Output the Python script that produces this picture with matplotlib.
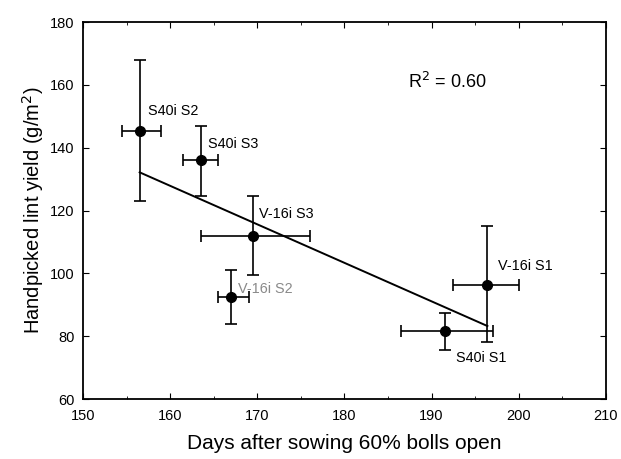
import numpy as np
import matplotlib
matplotlib.use("Agg")
import matplotlib.pyplot as plt
from matplotlib.ticker import MultipleLocator

plt.rcParams['font.family'] = ['Liberation Sans', 'DejaVu Sans']

# treatment means
labels = ["S40i S2", "S40i S3", "V-16i S3", "V-16i S2", "S40i S1", "V-16i S1"]
days = [156.5, 163.5, 169.5, 167.0, 191.5, 196.4]
yield_ = [145.5, 136.0, 112.0, 92.5, 81.5, 96.3]
# error bar extents (low, high)
days_lo = [154.5, 161.5, 163.5, 165.5, 186.5, 192.5]
days_hi = [159.0, 165.5, 176.0, 169.0, 197.0, 200.0]
yield_lo = [123.0, 124.5, 99.5, 84.0, 75.5, 78.0]
yield_hi = [168.0, 147.0, 124.5, 101.0, 87.5, 115.0]
# label anchor points
label_x = [157.5, 164.3, 170.2, 167.8, 192.8, 197.6]
label_y = [151.7, 141.3, 119.0, 95.0, 73.0, 102.3]
label_col = ["black", "black", "black", "#8a8a8a", "black", "black"]

days = np.array(days)
yield_ = np.array(yield_)
xerr = [days - np.array(days_lo), np.array(days_hi) - days]
yerr = [yield_ - np.array(yield_lo), np.array(yield_hi) - yield_]

fig = plt.figure(figsize=(6.21, 4.59), dpi=100)
ax = fig.add_axes([0.1337, 0.1307, 0.842, 0.821])

ax.errorbar(days, yield_, xerr=xerr, yerr=yerr, fmt='o', color='black',
            markersize=7, capsize=4, elinewidth=1.2, capthick=1.2)

# regression line
slope, icpt = np.polyfit(days, yield_, 1)
fx = np.array([days.min(), days.max()])
ax.plot(fx, slope * fx + icpt, color='black', linewidth=1.4)

for lab, lx, ly, c in zip(labels, label_x, label_y, label_col):
    ax.text(lx, ly, lab, fontsize=10.4, color=c, ha='left', va='center')

ax.text(187.3, 160.9, r'R$^2$ = 0.60', fontsize=13, ha='left', va='center')

ax.set_xlim(150, 210)
ax.set_ylim(60, 180)
ax.xaxis.set_major_locator(MultipleLocator(10))
ax.xaxis.set_minor_locator(MultipleLocator(5))
ax.yaxis.set_major_locator(MultipleLocator(20))
ax.tick_params(direction='in', top=True, right=True, which='both', labelsize=10.5)
ax.tick_params(which='major', length=4)
ax.tick_params(which='minor', length=2)
ax.tick_params(axis='x', pad=7)
ax.tick_params(axis='y', pad=6)
for s in ax.spines.values():
    s.set_linewidth(1.3)

ax.set_xlabel('Days after sowing 60% bolls open', fontsize=15, labelpad=8)
ax.set_ylabel(r'Handpicked lint yield (g/m$^2$)', fontsize=14.5, labelpad=3)

fig.savefig('out.png', dpi=100)
